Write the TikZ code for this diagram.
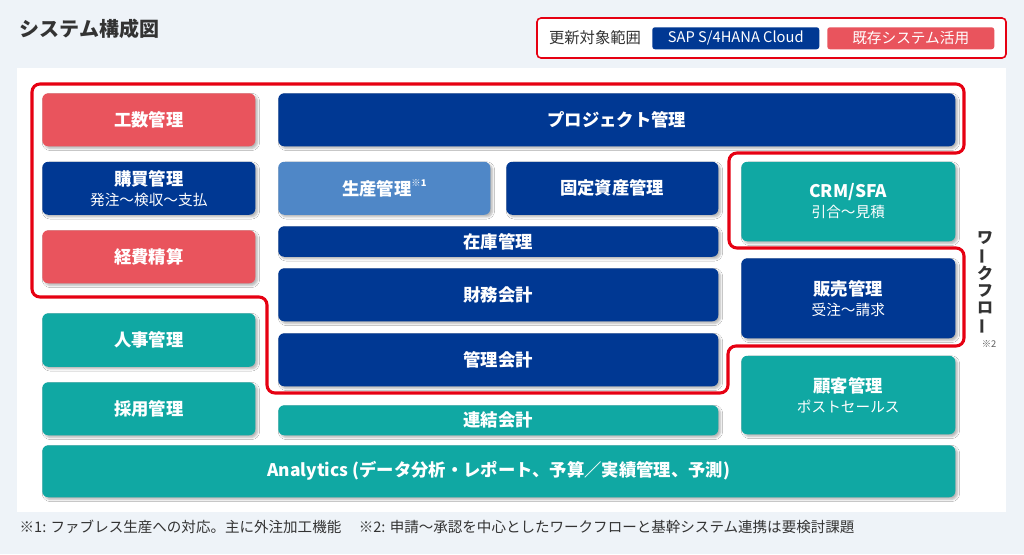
\documentclass[tikz,border=0pt]{standalone}
\usepackage{graphicx}
\usepackage{fontspec}
\setmainfont{Noto Sans CJK JP}
\usetikzlibrary{shadows.blur}

\definecolor{pagebg}{RGB}{238,243,248}
\definecolor{navy}{RGB}{0,56,147}
\definecolor{salmon}{RGB}{233,84,93}
\definecolor{skyblue}{RGB}{79,135,199}
\definecolor{teal}{RGB}{16,168,163}
\definecolor{wfred}{RGB}{230,0,18}
\definecolor{ink}{RGB}{51,51,51}

\newcommand{\subline}[1]{\\[-1pt]{\fontsize{11}{13}\selectfont\mdseries #1}}

\tikzset{
  sys/.style={rounded corners=4.5pt, text=white, anchor=north west, inner sep=0pt, align=center,
    font=\fontsize{13}{16}\selectfont\bfseries,
    blur shadow={shadow xshift=1.6pt, shadow yshift=-1.6pt, shadow opacity=30,
      shadow blur radius=1.6pt, shadow blur steps=5}},
  sz/.style 2 args={minimum width=#1*0.75pt, minimum height=#2*0.75pt},
  s4/.style={sys, fill=navy},
  legacy/.style={sys, fill=salmon},
  prod/.style={sys, fill=skyblue},
  ext/.style={sys, fill=teal},
  wf/.style={draw=wfred, line width=2.3pt, rounded corners=6pt},
  tag/.style={rounded corners=2pt, text=white, anchor=north west, inner sep=0pt,
    font=\fontsize{11}{13}\selectfont},
}

\begin{document}
\begin{tikzpicture}[x=0.75pt,y=0.75pt,yscale=-1,xscale=1]
  % background and panel
  \fill[pagebg] (0,0) rectangle (1024,554);
  \useasboundingbox (0,0) rectangle (1024,554);
  \fill[white] (17,68) rectangle (1006,512);

  % Title
  \node[anchor=west, text=ink, font=\fontsize{15}{18}\selectfont\bfseries] (title) at (15,29) {システム構成図};

  % Legend
  \draw[wfred, line width=1.2pt, fill=white, rounded corners=3pt] (537,18) rectangle (1006,58);
  \node[text=ink, font=\fontsize{11.5}{13}\selectfont] (legtxt) at (595,38) {更新対象範囲};
  \node[tag, fill=navy, sz={167}{22}] (legs4) at (652,27) {SAP S/4HANA Cloud};
  \node[tag, fill=salmon, sz={167}{22}] (legold) at (827,27) {既存システム活用};

  % row 1
  \node[legacy, sz={213}{53}] (kosu) at (42,93) {工数管理};
  \node[s4, sz={677}{53}] (proj) at (278,93) {プロジェクト管理};

  % row 2
  \node[s4, sz={213}{53}] (kobai) at (42,161.5) {購買管理\subline{発注〜検収〜支払}};
  \node[prod, sz={212}{53}] (seisan) at (278,161.5) {生産管理\raisebox{0.55em}{\fontsize{7}{8}\selectfont ※1}};
  \node[s4, sz={212}{53}] (kotei) at (506,161.5) {固定資産管理};
  \node[ext, sz={214}{79.5}] (crm) at (741,161.5) {CRM/SFA\subline{引合〜見積}};

  % row 3
  \node[s4, sz={440}{30.5}] (zaiko) at (278,226) {在庫管理};
  \node[legacy, sz={213}{53}] (keihi) at (42,230) {経費精算};
  \node[s4, sz={214}{80}] (hanbai) at (741,258) {販売管理\subline{受注〜請求}};
  \node[s4, sz={440}{53}] (zaimu) at (278,268) {財務会計};

  % row 4
  \node[ext, sz={213}{53.5}] (jinji) at (42,313) {人事管理};
  \node[s4, sz={440}{53}] (kanri) at (278,333) {管理会計};
  \node[ext, sz={214}{78.5}] (kokyaku) at (741,355.5) {顧客管理\subline{ポストセールス}};
  \node[ext, sz={213}{53}] (saiyo) at (42,382) {採用管理};
  \node[ext, sz={440}{30}] (renketsu) at (278,405) {連結会計};

  % row 5
  \node[ext, sz={913}{52}] (analytics) at (42,445) {Analytics (データ分析・レポート、予算／実績管理、予測)};

  % workflow outline
  \draw[wf] (32,84) -- (964,84) -- (964,153) -- (729,153) -- (729,248) -- (964,248) -- (964,346)
    -- (728,346) -- (728,393) -- (267,393) -- (267,297) -- (32,297) -- cycle;

  % Text Node
  \node[text=ink, align=center, inner sep=0pt, font=\fontsize{12}{12.75}\selectfont\bfseries] (wflabel) at (985,283)
    {ワ\\\rotatebox[origin=c]{90}{ー}\\ク\\フ\\ロ\\\rotatebox[origin=c]{90}{ー}};
  \node[text=ink!80, font=\fontsize{7}{8}\selectfont] (wfnote) at (989,344) {※2};

  % footnote
  \node[anchor=west, text=ink, font=\fontsize{10.9}{12}\selectfont] (note) at (15,527)
    {※1: ファブレス生産への対応。主に外注加工機能\hspace{1.2em}※2: 申請〜承認を中心としたワークフローと基幹システム連携は要検討課題};

\end{tikzpicture}
\end{document}
